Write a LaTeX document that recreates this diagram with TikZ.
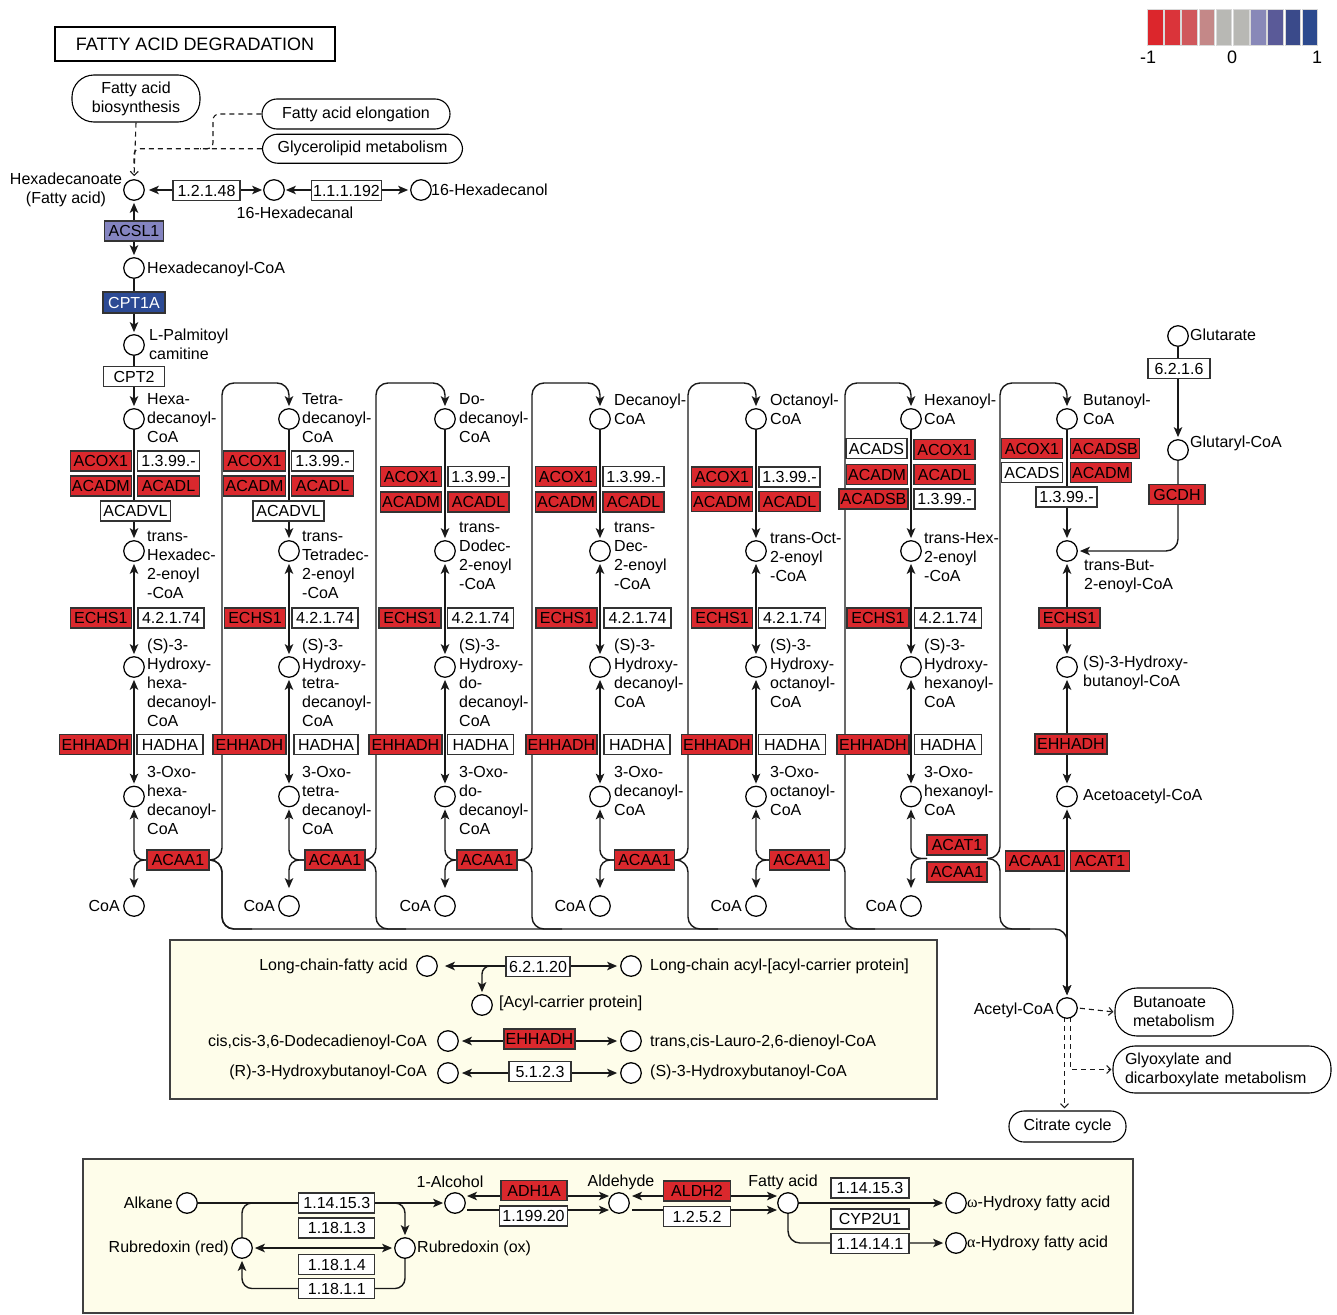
\documentclass[tikz,border=0pt]{standalone}
\usepackage{fontspec}
\setmainfont{Liberation Sans}
\newfontfamily\grk{Liberation Serif}
\usetikzlibrary{arrows.meta}
\pgfdeclarelayer{back}
\pgfdeclarelayer{lines}
\pgfsetlayers{back,lines,main}
\definecolor{kr}{RGB}{218,40,45}
\definecolor{klav}{RGB}{132,132,192}
\definecolor{kblue}{RGB}{44,74,148}
\definecolor{cream}{RGB}{254,253,234}
\definecolor{lg1}{RGB}{220,38,44}
\definecolor{lg2}{RGB}{218,52,58}
\definecolor{lg3}{RGB}{208,88,92}
\definecolor{lg4}{RGB}{196,136,136}
\definecolor{lg5}{RGB}{184,184,180}
\definecolor{lg6}{RGB}{184,184,180}
\definecolor{lg7}{RGB}{136,136,184}
\definecolor{lg8}{RGB}{90,90,152}
\definecolor{lg9}{RGB}{58,74,138}
\definecolor{lg10}{RGB}{44,74,142}
\newcommand\genebx[5]{\node[gene,fill=#4,minimum width=#3pt] (#1) at (#2) {#5};}
\begin{document}
\begin{tikzpicture}[x=1pt,y=-1pt,
  every node/.style={font=\fontsize{16}{19}\selectfont},
  cpd/.style={circle,draw=black,fill=white,line width=1.25pt,minimum size=20.5pt,inner sep=0pt},
  lbl/.style={inner sep=0pt,align=left,anchor=west},
  lble/.style={inner sep=0pt,align=right,anchor=east},
  gene/.style={draw=black!80,line width=1.1pt,minimum height=20pt,inner sep=0pt,text height=11.5pt,text depth=0pt},
  pw/.style={draw=black,line width=1.1pt,inner sep=0pt},
  ln/.style={line width=1.4pt,draw=black!90},
  arr/.style={ln,-{Stealth[length=10pt,width=8.5pt,inset=2.5pt]},shorten >=2pt},
  darr/.style={ln,{Stealth[length=10pt,width=8.5pt,inset=2.5pt]}-{Stealth[length=10pt,width=8.5pt,inset=2.5pt]},shorten >=2pt,shorten <=2pt},
  dsh/.style={line width=1.1pt,draw=black!90,dash pattern=on 5pt off 4pt},
  dsharr/.style={dsh,-{Straight Barb[length=4pt,width=8pt]}},
]
\useasboundingbox (0,0) rectangle (1337,1314);

% ---------- title and legend ----------
\node[draw,line width=2.4pt,minimum width=280pt,minimum height=34pt,inner sep=0pt,font=\fontsize{18}{22}\selectfont] (title) at (195,44) {FATTY ACID DEGRADATION};
\foreach \c [count=\n from 0] in {lg1,lg2,lg3,lg4,lg5,lg6,lg7,lg8,lg9,lg10}
  \node[fill=\c,draw=white!85!black,line width=0.5pt,minimum width=15.5pt,minimum height=36pt,inner sep=0pt] (leg\n) at (1155+17.2*\n,27) {};
\node[inner sep=0pt,font=\fontsize{18}{22}\selectfont] (legm) at (1148,57) {-1};
\node[inner sep=0pt,font=\fontsize{18}{22}\selectfont] (leg0l) at (1232,57) {0};
\node[inner sep=0pt,font=\fontsize{18}{22}\selectfont] (legp) at (1317,57) {1};

% ---------- top part ----------
\node[pw,rounded corners=22pt,minimum width=128pt,minimum height=47pt,align=center] (pwfab) at (136,98.5) {Fatty acid\\biosynthesis};
\node[pw,rounded corners=15pt,minimum width=188pt,minimum height=30pt] (pwfae) at (356,114) {Fatty acid elongation};
\node[pw,rounded corners=15pt,minimum width=200pt,minimum height=29pt] (pwgly) at (362.5,148.7) {Glycerolipid metabolism};

\node[cpd] (hxa) at (134,190) {};
\node[inner sep=0pt,align=center] (lhxa) at (66,190) {Hexadecanoate\\(Fatty acid)};
\node[cpd] (hal) at (274,190) {};
\node[inner sep=0pt] (lhal) at (295,213) {16-Hexadecanal};
\node[cpd] (hol) at (421,190) {};
\node[lbl] (lhol) at (431,190) {16-Hexadecanol};
\node[cpd] (hcoa) at (134,268) {};
\node[lbl] (lhcoa) at (147,269) {Hexadecanoyl-CoA};
\node[cpd] (pal) at (134,345) {};
\node[lbl] (lpal) at (149,344.5) {L-Palmitoyl\\camitine};

\genebx{e12148}{206.5,190.5}{67}{white}{1.2.1.48}
\genebx{e111192}{346.5,190.5}{70}{white}{1.1.1.192}
\genebx{acsl}{134,231}{59}{klav}{ACSL1}
\node[gene,fill=kblue,text=white,minimum width=62pt,minimum height=21pt] (cpt1a) at (134,302.5) {CPT1A};
\genebx{cpt2}{134,376.5}{61}{white}{CPT2}

% ---------- compounds of the columns ----------
\foreach \i/\X in {1/134,2/289,3/445,4/600,5/756,6/911,7/1067} {
  \node[cpd] (a\i) at (\X,419) {};
  \node[cpd] (t\i) at (\X,551) {};
  \node[cpd] (h\i) at (\X,667) {};
  \node[cpd] (o\i) at (\X,796.5) {};
}
\foreach \i/\X in {1/134,2/289,3/445,4/600,5/756,6/911} {
  \node[cpd] (k\i) at (\X,906) {};
  \node[lble] (lk\i) at (\X-14,906) {CoA};
}

\node[lbl] (l1a) at (147,418) {Hexa-\\decanoyl-\\CoA};
\node[lbl] (l1t) at (147,565) {trans-\\Hexadec-\\2-enoyl\\-CoA};
\node[lbl] (l1h) at (147,682.5) {(S)-3-\\Hydroxy-\\hexa-\\decanoyl-\\CoA};
\node[lbl] (l1o) at (147,800.5) {3-Oxo-\\hexa-\\decanoyl-\\CoA};

\node[lbl] (l2a) at (302,418) {Tetra-\\decanoyl-\\CoA};
\node[lbl] (l2t) at (302,565) {trans-\\Tetradec-\\2-enoyl\\-CoA};
\node[lbl] (l2h) at (302,682.5) {(S)-3-\\Hydroxy-\\tetra-\\decanoyl-\\CoA};
\node[lbl] (l2o) at (302,800.5) {3-Oxo-\\tetra-\\decanoyl-\\CoA};

\node[lbl] (l3a) at (459,418) {Do-\\decanoyl-\\CoA};
\node[lbl] (l3t) at (459,556) {trans-\\Dodec-\\2-enoyl\\-CoA};
\node[lbl] (l3h) at (459,682.5) {(S)-3-\\Hydroxy-\\do-\\decanoyl-\\CoA};
\node[lbl] (l3o) at (459,800.5) {3-Oxo-\\do-\\decanoyl-\\CoA};

\node[lbl] (l4a) at (614,409) {Decanoyl-\\CoA};
\node[lbl] (l4t) at (614,556) {trans-\\Dec-\\2-enoyl\\-CoA};
\node[lbl] (l4h) at (614,673) {(S)-3-\\Hydroxy-\\decanoyl-\\CoA};
\node[lbl] (l4o) at (614,791) {3-Oxo-\\decanoyl-\\CoA};

\node[lbl] (l5a) at (770,409) {Octanoyl-\\CoA};
\node[lbl] (l5t) at (770,557) {trans-Oct-\\2-enoyl\\-CoA};
\node[lbl] (l5h) at (770,673) {(S)-3-\\Hydroxy-\\octanoyl-\\CoA};
\node[lbl] (l5o) at (770,791) {3-Oxo-\\octanoyl-\\CoA};

\node[lbl] (l6a) at (924,409) {Hexanoyl-\\CoA};
\node[lbl] (l6t) at (924,557) {trans-Hex-\\2-enoyl\\-CoA};
\node[lbl] (l6h) at (924,673) {(S)-3-\\Hydroxy-\\hexanoyl-\\CoA};
\node[lbl] (l6o) at (924,791) {3-Oxo-\\hexanoyl-\\CoA};

\node[lbl] (l7a) at (1083,409) {Butanoyl-\\CoA};
\node[lbl] (l7t) at (1084,576) {trans-But-\\2-enoyl-CoA};
\node[lbl] (l7h) at (1083,672.5) {(S)-3-Hydroxy-\\butanoyl-CoA};
\node[lbl] (l7o) at (1083,796.5) {Acetoacetyl-CoA};

\node[cpd] (glu) at (1178,336) {};
\node[lbl] (lglu) at (1190,335) {Glutarate};
\node[cpd] (gcoa) at (1178,450) {};
\node[lbl] (lgcoa) at (1190,443) {Glutaryl-CoA};

\node[cpd] (ac) at (1067,1008) {};
\node[lble] (lac) at (1054,1010) {Acetyl-CoA};
\node[pw,rounded corners=22pt,minimum height=48pt,text width=82pt,inner xsep=18pt,align=left] (bm) at (1174,1012) {Butanoate\\metabolism};
\node[pw,rounded corners=22pt,minimum height=47pt,text width=194pt,inner xsep=12pt,align=left] (gm) at (1222,1069.5) {Glyoxylate and\\dicarboxylate metabolism};
\node[pw,rounded corners=15pt,minimum width=117pt,minimum height=31pt] (cc) at (1067.5,1126.5) {Citrate cycle};

% ---------- gene boxes of the columns ----------
\genebx{g1acox}{100.8,461}{61}{kr}{ACOX1}
\genebx{g1e13}{168.5,461}{62}{white}{1.3.99.-}
\genebx{g1acadm}{100.8,486}{61}{kr}{ACADM}
\genebx{g1acadl}{168.5,486}{62}{kr}{ACADL}
\genebx{g1vl}{135.5,511}{70}{white}{ACADVL}
\genebx{g1echs}{100.8,618}{61}{kr}{ECHS1}
\genebx{g1e42}{171,618}{66}{white}{4.2.1.74}
\genebx{g1ehh}{95.5,744.5}{72}{kr}{EHHADH}
\genebx{g1hadha}{170,744.5}{66}{white}{HADHA}
\genebx{acaa1}{178,860}{62}{kr}{ACAA1}

\genebx{g2acox}{254.5,461}{62}{kr}{ACOX1}
\genebx{g2e13}{322.5,461}{62}{white}{1.3.99.-}
\genebx{g2acadm}{254.5,486}{62}{kr}{ACADM}
\genebx{g2acadl}{322.5,486}{62}{kr}{ACADL}
\genebx{g2vl}{288.5,511}{71}{white}{ACADVL}
\genebx{g2echs}{255,618}{61}{kr}{ECHS1}
\genebx{g2e42}{325,618}{66}{white}{4.2.1.74}
\genebx{g2ehh}{249.5,744.5}{73}{kr}{EHHADH}
\genebx{g2hadha}{326,744.5}{64}{white}{HADHA}
\genebx{acaa2}{335,860}{60}{kr}{ACAA1}

\genebx{g3acox}{411,476.5}{61}{kr}{ACOX1}
\genebx{g3e13}{478.5,476.5}{61}{white}{1.3.99.-}
\genebx{g3acadm}{411,502}{61}{kr}{ACADM}
\genebx{g3acadl}{478.5,502}{61}{kr}{ACADL}
\genebx{g3echs}{410,618}{62}{kr}{ECHS1}
\genebx{g3e42}{480.5,618}{66}{white}{4.2.1.74}
\genebx{g3ehh}{405.5,744.5}{73}{kr}{EHHADH}
\genebx{g3hadha}{480.5,744.5}{66}{white}{HADHA}
\genebx{acaa3}{487,860}{60}{kr}{ACAA1}

\genebx{g4acox}{566,476.5}{61}{kr}{ACOX1}
\genebx{g4e13}{633.5,476.5}{61}{white}{1.3.99.-}
\genebx{g4acadm}{566,502}{61}{kr}{ACADM}
\genebx{g4acadl}{633.5,502}{61}{kr}{ACADL}
\genebx{g4echs}{566.5,618}{61}{kr}{ECHS1}
\genebx{g4e42}{637.5,618}{67}{white}{4.2.1.74}
\genebx{g4ehh}{561.5,744.5}{71}{kr}{EHHADH}
\genebx{g4hadha}{637,744.5}{66}{white}{HADHA}
\genebx{acaa4}{644.5,860}{60}{kr}{ACAA1}

\genebx{g5acox}{722,477}{61}{kr}{ACOX1}
\genebx{g5e13}{789.5,477}{61}{white}{1.3.99.-}
\genebx{g5acadm}{722,501.5}{61}{kr}{ACADM}
\genebx{g5acadl}{789.5,501.5}{61}{kr}{ACADL}
\genebx{g5echs}{722,618}{61}{kr}{ECHS1}
\genebx{g5e42}{792,618}{67}{white}{4.2.1.74}
\genebx{g5ehh}{717,744.5}{71}{kr}{EHHADH}
\genebx{g5hadha}{792,744.5}{67}{white}{HADHA}
\genebx{acaa5}{799.5,860}{60}{kr}{ACAA1}

\genebx{g6acads}{876.5,448.5}{61}{white}{ACADS}
\genebx{g6acox}{944.5,449.5}{61}{kr}{ACOX1}
\genebx{g6acadm}{877,474.5}{61}{kr}{ACADM}
\genebx{g6acadl}{944.5,474.5}{61}{kr}{ACADL}
\genebx{g6acadsb}{873.5,499}{69}{kr}{ACADSB}
\genebx{g6e13}{944.5,499}{61}{white}{1.3.99.-}
\genebx{g6echs}{878,618}{62}{kr}{ECHS1}
\genebx{g6e42}{948,618}{67}{white}{4.2.1.74}
\genebx{g6ehh}{873,744.5}{72}{kr}{EHHADH}
\genebx{g6hadha}{948,744.5}{67}{white}{HADHA}
\genebx{g6acat}{957,845}{60}{kr}{ACAT1}
\genebx{acaa6}{957,872}{60}{kr}{ACAA1}

\genebx{g7acox}{1032,448.5}{61}{kr}{ACOX1}
\genebx{g7acadsb}{1105,448.5}{69}{kr}{ACADSB}
\genebx{g7acads}{1032,472.5}{61}{white}{ACADS}
\genebx{g7acadm}{1101,472.5}{61}{kr}{ACADM}
\genebx{g7e13}{1066.5,497}{61}{white}{1.3.99.-}
\genebx{g7echs}{1069.5,618}{61}{kr}{ECHS1}
\genebx{g7ehh}{1071,744}{72}{kr}{EHHADH}
\genebx{g7acaa}{1035,861}{59}{kr}{ACAA1}
\genebx{g7acat}{1100,861}{59}{kr}{ACAT1}
\genebx{gcdh}{1177,494.5}{56}{kr}{GCDH}
\genebx{e6216}{1179,368.5}{62}{white}{6.2.1.6}

% ---------- middle box ----------
\node[cpd] (lcfa) at (427,966) {};
\node[lble] (llcfa) at (408,966) {Long-chain-fatty acid};
\node[cpd] (lcacp) at (631,966) {};
\node[lbl] (llcacp) at (650,966) {Long-chain acyl-[acyl-carrier protein]};
\node[cpd] (acp) at (482,1005) {};
\node[lbl] (lacp) at (499,1003) {[Acyl-carrier protein]};
\node[cpd] (ccd) at (448,1041) {};
\node[lble] (lccd) at (427,1042) {cis,cis-3,6-Dodecadienoyl-CoA};
\node[cpd] (tcl) at (631,1041) {};
\node[lbl] (ltcl) at (650,1042) {trans,cis-Lauro-2,6-dienoyl-CoA};
\node[cpd] (r3h) at (448,1073) {};
\node[lble] (lr3h) at (427,1072) {(R)-3-Hydroxybutanoyl-CoA};
\node[cpd] (s3h) at (631,1073) {};
\node[lbl] (ls3h) at (650,1072) {(S)-3-Hydroxybutanoyl-CoA};
\genebx{e62120}{538,966.5}{64}{white}{6.2.1.20}
\genebx{ehhm}{539.5,1039}{71}{kr}{EHHADH}
\genebx{e5123}{540,1071.5}{62}{white}{5.1.2.3}

% ---------- bottom box ----------
\node[cpd] (alk) at (187,1203) {};
\node[lble] (lalk) at (173,1203) {Alkane};
\node[cpd] (alc) at (455,1203) {};
\node[inner sep=0pt] (lalc) at (450,1182) {1-Alcohol};
\node[cpd] (ald) at (619,1203) {};
\node[inner sep=0pt] (lald) at (621,1182) {Aldehyde};
\node[cpd] (fa) at (788,1203) {};
\node[inner sep=0pt] (lfa) at (783,1182) {Fatty acid};
\node[cpd] (om) at (956,1203) {};
\node[lbl] (lom) at (967,1203) {{\grk ω}-Hydroxy fatty acid};
\node[cpd] (al) at (956,1243) {};
\node[lbl] (lal) at (967,1243) {{\grk α}-Hydroxy fatty acid};
\node[cpd] (rr) at (242,1248) {};
\node[lble] (lrr) at (229,1248) {Rubredoxin (red)};
\node[cpd] (ro) at (405,1248) {};
\node[lbl] (lro) at (417,1248) {Rubredoxin (ox)};
\genebx{b1}{336.8,1203}{76}{white}{1.14.15.3}
\genebx{b2}{336.8,1228}{76}{white}{1.18.1.3}
\genebx{b3}{336.8,1264.5}{76}{white}{1.18.1.4}
\genebx{b4}{336.8,1288.5}{76}{white}{1.18.1.1}
\genebx{adh}{534,1190.5}{66}{kr}{ADH1A}
\genebx{b5}{533.5,1216}{68}{white}{1.199.20}
\genebx{aldh}{697,1191}{67}{kr}{ALDH2}
\genebx{b6}{697,1216.5}{67}{white}{1.2.5.2}
\genebx{b7}{870,1188}{78}{white}{1.14.15.3}
\genebx{b8}{870,1219}{78}{white}{CYP2U1}
\genebx{b9}{870,1243.5}{78}{white}{1.14.14.1}

% ---------- backgrounds ----------
\begin{pgfonlayer}{back}
\draw[draw=black!75,line width=1.2pt,fill=cream] (170,940) rectangle (937,1099);
\draw[draw=black!75,line width=1.2pt,fill=cream] (83,1159) rectangle (1133,1313);
\end{pgfonlayer}

% ---------- connectors ----------
\begin{pgfonlayer}{lines}
\draw[dsharr,shorten >=3pt] (pwfab.south) -- (hxa.north);
\draw[dsh,rounded corners=6pt] (pwgly.west) -| (134,168);
\draw[dsh,rounded corners=6pt] (pwfae.west) -- (213,114) -- (213,148.7) -- (200,148.7);
\draw[darr,shorten <=4pt,shorten >=1pt] (hxa) -- (hal);
\draw[darr,shorten <=1pt,shorten >=2pt] (hal) -- (hol);
\draw[darr] (hxa) -- (hcoa);
\draw[arr] (hcoa) -- (pal);
\draw[arr] (pal) -- (a1);

\foreach \i in {1,...,7} {
  \draw[arr] (a\i) -- (t\i);
  \draw[darr] (t\i) -- (h\i);
  \draw[darr] (h\i) -- (o\i);
}
\foreach \i/\V/\N in {1/222/2,2/376/3,3/532/4,4/688/5,5/845/6} {
  \draw[arr,rounded corners=10pt] (acaa\i.west) -| (o\i.south);
  \draw[arr,rounded corners=10pt,shorten >=7pt] (acaa\i.west) -| (k\i.north);
  \draw[arr,rounded corners=12pt] (acaa\i.east) -| (\V,383) -| (a\N.north);
  \draw[ln,rounded corners=12pt] (acaa\i.east) -| (\V,929) -- (\V+30,929);
}
\coordinate (j6l) at (927,858.5);
\coordinate (j6r) at (987,858.5);
\draw[arr,rounded corners=10pt] (j6l) -| (o6.south);
\draw[arr,rounded corners=10pt,shorten >=7pt] (j6l) -| (k6.north);
\draw[arr,rounded corners=12pt] (j6r) -| (1000,383) -| (a7.north);
\draw[ln,rounded corners=12pt] (j6r) -| (1000,929) -- (1030,929);
\draw[arr,rounded corners=12pt] (acaa1.east) -| (222,929) -| (ac.north);
\draw[darr] (o7) -- (ac);

\draw[arr] (glu) -- (gcoa);
\draw[arr,rounded corners=12pt] (gcoa.south) |- (t7.east);

\coordinate (acb1) at (1070.5,1017);
\coordinate (acb2) at (1064.5,1017);
\draw[dsharr,shorten <=2pt,shorten >=1pt] (ac.east) -- (bm.west);
\draw[dsharr,shorten >=1pt] (acb1) |- (gm.west);
\draw[dsharr,shorten >=2pt] (acb2) -- (acb2 |- cc.north);

% middle box
\draw[darr,shorten <=7pt,shorten >=3pt] (lcfa) -- (lcacp);
\coordinate (br) at (500,966);
\draw[arr,rounded corners=8pt] (br) -| (acp.north);
\draw[darr,shorten <=3pt,shorten >=3pt] (ccd) -- (tcl);
\draw[darr,shorten <=3pt,shorten >=3pt] (r3h) -- (s3h);

% bottom box
\draw[arr,shorten >=1pt] (alk) -- (alc);
\coordinate (rt) at (300,1203);
\coordinate (rt2) at (370,1203);
\draw[ln,rounded corners=10pt] (rr.north) |- (rt);
\draw[arr,rounded corners=10pt] (rt2) -| (ro.north);
\draw[darr] (rr) -- (ro);
\coordinate (rb1) at (405,1288.5);
\coordinate (rb2) at (242,1288.5);
\draw[arr,rounded corners=10pt] (ro.south) -- (rb1) -- (rb2) -- (rr.south);
\coordinate (p1) at (467,1196);
\coordinate (p2) at (609,1196);
\coordinate (p3) at (467,1210);
\coordinate (p4) at (609,1210);
\draw[darr,shorten <=0pt,shorten >=0pt] (p1) -- (p2);
\draw[arr,shorten >=0pt] (p3) -- (p4);
\coordinate (q1) at (632,1196);
\coordinate (q2) at (777,1196);
\coordinate (q3) at (632,1210);
\coordinate (q4) at (777,1210);
\draw[darr,shorten <=0pt,shorten >=0pt] (q1) -- (q2);
\draw[arr,shorten >=0pt] (q3) -- (q4);
\draw[arr] (fa) -- (om);
\draw[arr,rounded corners=12pt] (fa.south) |- (al.west);
\end{pgfonlayer}
\end{tikzpicture}
\end{document}
